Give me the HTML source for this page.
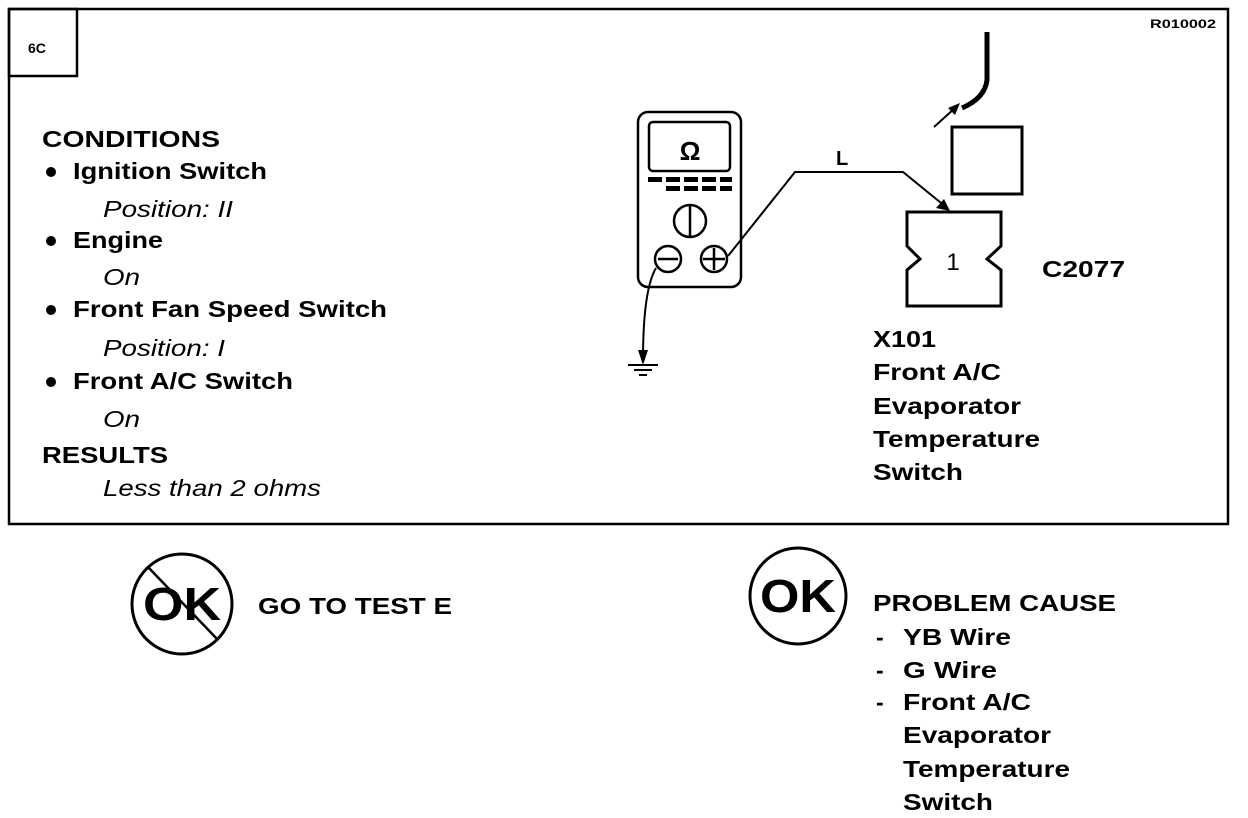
<!DOCTYPE html>
<html><head><meta charset="utf-8"><style>
html,body{margin:0;padding:0;background:#fff;}
svg{display:block;}
text{font-family:"Liberation Sans",Arial,sans-serif;font-weight:bold;fill:#000;}
.i{font-style:italic;font-weight:normal;}
</style></head><body>
<svg width="1248" height="818" viewBox="0 0 1248 818" xmlns="http://www.w3.org/2000/svg">
<rect x="9" y="9" width="1219" height="515" fill="none" stroke="#000" stroke-width="2.5"/>
<rect x="9" y="9" width="68" height="67" fill="none" stroke="#000" stroke-width="2.5"/>
<text x="28" y="53" font-size="14">6C</text>
<text x="1150" y="28" font-size="12" textLength="66" lengthAdjust="spacingAndGlyphs">R010002</text>

<g font-size="23">
<text x="42" y="147" textLength="178" lengthAdjust="spacingAndGlyphs">CONDITIONS</text>
<circle cx="51" cy="172" r="5"/>
<text x="73" y="179" textLength="194" lengthAdjust="spacingAndGlyphs">Ignition Switch</text>
<text class="i" x="103" y="217" textLength="130" lengthAdjust="spacingAndGlyphs">Position: II</text>
<circle cx="51" cy="241" r="5"/>
<text x="73" y="248" textLength="90" lengthAdjust="spacingAndGlyphs">Engine</text>
<text class="i" x="103" y="285" textLength="37" lengthAdjust="spacingAndGlyphs">On</text>
<circle cx="51" cy="310" r="5"/>
<text x="73" y="317" textLength="314" lengthAdjust="spacingAndGlyphs">Front Fan Speed Switch</text>
<text class="i" x="103" y="356" textLength="122" lengthAdjust="spacingAndGlyphs">Position: I</text>
<circle cx="51" cy="382" r="5"/>
<text x="73" y="389" textLength="220" lengthAdjust="spacingAndGlyphs">Front A/C Switch</text>
<text class="i" x="103" y="427" textLength="37" lengthAdjust="spacingAndGlyphs">On</text>
<text x="42" y="463" textLength="126" lengthAdjust="spacingAndGlyphs">RESULTS</text>
<text class="i" x="103" y="496" textLength="218" lengthAdjust="spacingAndGlyphs">Less than 2 ohms</text>

<text x="873" y="347" textLength="63" lengthAdjust="spacingAndGlyphs">X101</text>
<text x="873" y="380" textLength="128" lengthAdjust="spacingAndGlyphs">Front A/C</text>
<text x="873" y="414" textLength="148" lengthAdjust="spacingAndGlyphs">Evaporator</text>
<text x="873" y="447" textLength="167" lengthAdjust="spacingAndGlyphs">Temperature</text>
<text x="873" y="480" textLength="90" lengthAdjust="spacingAndGlyphs">Switch</text>
<text x="1042" y="277" textLength="83" lengthAdjust="spacingAndGlyphs">C2077</text>
<text x="836" y="165" font-size="20">L</text>
</g>

<!-- meter -->
<rect x="638" y="112" width="103" height="175" rx="10" fill="none" stroke="#000" stroke-width="2.5"/>
<rect x="649" y="122" width="81" height="49" rx="4" fill="none" stroke="#000" stroke-width="2.5"/>
<text x="690" y="160" font-size="26" text-anchor="middle">Ω</text>
<g fill="#000">
<rect x="648" y="177" width="14" height="5"/><rect x="666" y="177" width="14" height="5"/><rect x="684" y="177" width="14" height="5"/><rect x="702" y="177" width="14" height="5"/><rect x="720" y="177" width="12" height="5"/>
<rect x="666" y="186" width="14" height="5"/><rect x="684" y="186" width="14" height="5"/><rect x="702" y="186" width="14" height="5"/><rect x="720" y="186" width="12" height="5"/>
</g>
<circle cx="690" cy="221" r="16" fill="none" stroke="#000" stroke-width="2.5"/>
<line x1="690" y1="205" x2="690" y2="237" stroke="#000" stroke-width="2.5"/>
<circle cx="668" cy="259" r="13" fill="none" stroke="#000" stroke-width="2.5"/>
<line x1="658" y1="259" x2="678" y2="259" stroke="#000" stroke-width="2.5"/>
<circle cx="714" cy="259" r="13" fill="none" stroke="#000" stroke-width="2.5"/>
<line x1="703" y1="259" x2="725" y2="259" stroke="#000" stroke-width="2.5"/>
<line x1="714" y1="248" x2="714" y2="270" stroke="#000" stroke-width="2.5"/>
<!-- wire -->
<polyline points="728,256 795,172 903,172 946,207" fill="none" stroke="#000" stroke-width="2"/>
<polygon points="950,211 936,208 944,199" fill="#000"/>
<!-- ground -->
<path d="M656,268 Q643,290 643,360" fill="none" stroke="#000" stroke-width="2"/>
<polygon points="643,365 638,350 648,350" fill="#000"/>
<line x1="628" y1="365" x2="658" y2="365" stroke="#000" stroke-width="2"/>
<line x1="634" y1="370" x2="652" y2="370" stroke="#000" stroke-width="2"/>
<line x1="639" y1="375" x2="647" y2="375" stroke="#000" stroke-width="2"/>
<!-- connector -->
<path d="M907,212 L1001,212 L1001,246 L987,259 L1001,270 L1001,306 L907,306 L907,270 L920,259 L907,246 Z" fill="none" stroke="#000" stroke-width="3"/>
<text x="953" y="270" font-size="24" text-anchor="middle" style="font-weight:normal">1</text>
<rect x="952" y="127" width="70" height="67" fill="none" stroke="#000" stroke-width="3"/>
<path d="M987,32 L987,80 Q985,98 962,108" fill="none" stroke="#000" stroke-width="5"/>
<line x1="934" y1="127" x2="955" y2="108" stroke="#000" stroke-width="2"/>
<polygon points="960,103 948,108 955,115" fill="#000"/>

<!-- bottom -->
<circle cx="182" cy="604" r="50" fill="none" stroke="#000" stroke-width="3"/>
<text x="143" y="620" font-size="46" textLength="78" lengthAdjust="spacingAndGlyphs">OK</text>
<line x1="148" y1="567" x2="218" y2="640" stroke="#000" stroke-width="2.5"/>
<text x="258" y="614" font-size="23" textLength="194" lengthAdjust="spacingAndGlyphs">GO TO TEST E</text>
<circle cx="798" cy="596" r="48" fill="none" stroke="#000" stroke-width="3"/>
<text x="760" y="612" font-size="46" textLength="76" lengthAdjust="spacingAndGlyphs">OK</text>
<g font-size="23">
<text x="873" y="611" textLength="243" lengthAdjust="spacingAndGlyphs">PROBLEM CAUSE</text>
<text x="876" y="645">-</text><text x="903" y="645" textLength="108" lengthAdjust="spacingAndGlyphs">YB Wire</text>
<text x="876" y="678">-</text><text x="903" y="678" textLength="94" lengthAdjust="spacingAndGlyphs">G Wire</text>
<text x="876" y="710">-</text><text x="903" y="710" textLength="128" lengthAdjust="spacingAndGlyphs">Front A/C</text>
<text x="903" y="743" textLength="148" lengthAdjust="spacingAndGlyphs">Evaporator</text>
<text x="903" y="777" textLength="167" lengthAdjust="spacingAndGlyphs">Temperature</text>
<text x="903" y="810" textLength="90" lengthAdjust="spacingAndGlyphs">Switch</text>
</g>
</svg>
</body></html>
